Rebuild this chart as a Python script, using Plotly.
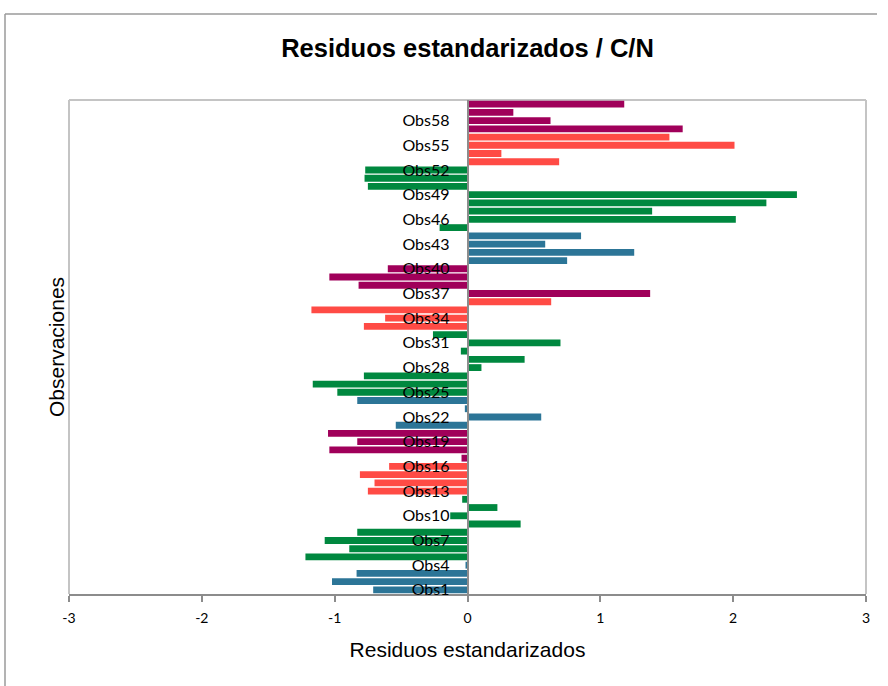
import plotly.graph_objects as go

# ---- data ----
obs_numbers = list(range(1, 61))
obs_labels = [f"Obs{i}" for i in obs_numbers]
residuals = [
    -0.71, -1.02, -0.835, -0.015, -1.22, -0.89, -1.075, -0.83, 0.40, -0.13,
    0.225, -0.04, -0.75, -0.70, -0.81, -0.59, -0.045, -1.04, -0.83, -1.05,
    -0.54, 0.555, -0.02, -0.83, -0.98, -1.165, -0.78, 0.105, 0.43, -0.05,
    0.70, -0.26, -0.78, -0.62, -1.175, 0.63, 1.375, -0.82, -1.04, -0.60,
    0.75, 1.255, 0.585, 0.855, -0.21, 2.02, 1.39, 2.25, 2.48, -0.75,
    -0.775, -0.77, 0.69, 0.255, 2.01, 1.52, 1.62, 0.625, 0.345, 1.18,
]
tick_obs = list(range(1, 61, 3))
tick_text = [f"Obs{i}" for i in tick_obs]
x_ticks = [-3, -2, -1, 0, 1, 2, 3]

# repeating colour groups: 4 blue, 8 green, 4 red, 4 purple
group_pattern = ["blue"] * 4 + ["green"] * 8 + ["red"] * 4 + ["purple"] * 4
palette = {"blue": "#2C7597", "green": "#00883F", "red": "#FF4B45", "purple": "#A0005A"}
bar_colors = [palette[group_pattern[(i - 1) % 20]] for i in obs_numbers]

fig = go.Figure(
    go.Bar(
        x=residuals,
        y=obs_numbers,
        orientation="h",
        marker=dict(color=bar_colors, line=dict(width=0)),
        hovertext=obs_labels,
        showlegend=False,
    )
)

L, R, T, B = 69, 22, 100, 92
W, H = 888, 686
pw, ph = W - L - R, H - T - B

def px_x(p):
    return (p - L) / pw

def px_y(p):
    return (H - B - p) / ph

fig.update_layout(
    width=W,
    height=H,
    margin=dict(l=L, r=R, t=T, b=B),
    paper_bgcolor="white",
    plot_bgcolor="white",
    bargap=0.17,
    font=dict(family="Lato, Liberation Sans, sans-serif", color="#000000"),
    title=dict(
        text="<b>Residuos estandarizados / C/N</b>",
        x=0.5 * (L + W - R) / W,
        xanchor="center",
        y=1 - 48 / H,
        yanchor="middle",
        font=dict(family="Liberation Sans, Arial", size=25.5, color="#000000"),
    ),
    xaxis=dict(
        range=[-3, 3],
        tickvals=x_ticks,
        ticktext=[str(v) for v in x_ticks],
        showgrid=False,
        zeroline=False,
        showline=True,
        linecolor="#8C8C8C",
        linewidth=1.5,
        ticks="outside",
        ticklen=6,
        tickcolor="#8C8C8C",
        tickwidth=1.5,
        ticklabelstandoff=4,
        tickfont=dict(family="Lato, Liberation Sans", size=14, color="#000000"),
        title=dict(
            text="Residuos estandarizados",
            font=dict(family="Liberation Sans, Arial", size=21, color="#000000"),
            standoff=18,
        ),
        fixedrange=True,
    ),
    yaxis=dict(
        range=[0.5, 60.5],
        tickvals=tick_obs,
        ticktext=tick_text,
        anchor="free",
        position=0.5,
        showgrid=False,
        zeroline=False,
        showline=True,
        linecolor="#8C8C8C",
        linewidth=1.5,
        ticks="",
        ticklabelstandoff=14,
        tickfont=dict(family="Lato, Liberation Sans", size=16, color="#000000"),
        fixedrange=True,
    ),
    shapes=[
        # plot-area border (light grey) on left, top, right
        dict(type="line", xref="paper", yref="paper", x0=0, x1=0, y0=0, y1=1,
             line=dict(color="#C4C4C4", width=2), layer="below"),
        dict(type="line", xref="paper", yref="paper", x0=0, x1=1, y0=1, y1=1,
             line=dict(color="#C4C4C4", width=2), layer="below"),
        dict(type="line", xref="paper", yref="paper", x0=1, x1=1, y0=0, y1=1,
             line=dict(color="#C4C4C4", width=2), layer="below"),
        # outer chart border
        dict(type="line", xref="paper", yref="paper", x0=px_x(5), x1=px_x(5),
             y0=px_y(14), y1=px_y(690), line=dict(color="#9A9A9A", width=1.5)),
        dict(type="line", xref="paper", yref="paper", x0=px_x(5), x1=px_x(877),
             y0=px_y(14), y1=px_y(14), line=dict(color="#9A9A9A", width=1.5)),
    ],
    annotations=[
        dict(
            text="Observaciones",
            xref="paper", yref="paper",
            x=px_x(56), y=px_y(347),
            xanchor="center", yanchor="middle",
            textangle=-90, showarrow=False,
            font=dict(family="Liberation Sans, Arial", size=21, color="#000000"),
        )
    ],
)

fig.write_html(
    "out.html",
    config={"displayModeBar": False},
    post_script="document.body.style.margin='0';document.body.style.overflow='hidden';",
)
